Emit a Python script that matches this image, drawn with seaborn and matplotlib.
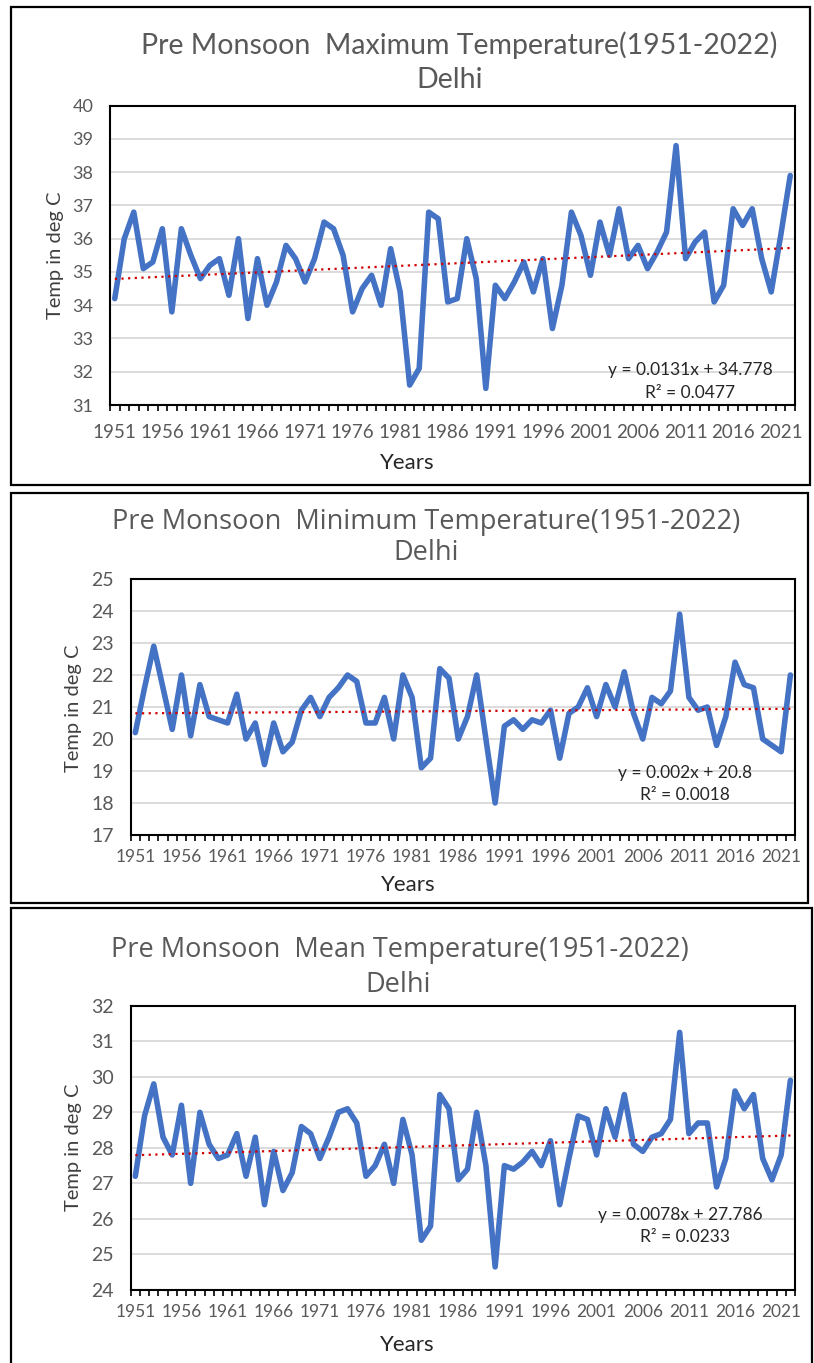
import numpy as np
import pandas as pd
import matplotlib
matplotlib.use("Agg")
import matplotlib.pyplot as plt
import seaborn as sns
from matplotlib.patches import Rectangle


years = list(range(1951, 2023))

max_temp = [34.2, 36.0, 36.8, 35.1, 35.3, 36.3, 33.8, 36.3, 35.5, 34.8, 35.2, 35.4,
            34.3, 36.0, 33.6, 35.4, 34.0, 34.7, 35.8, 35.4, 34.7, 35.4, 36.5, 36.3,
            35.5, 33.8, 34.5, 34.9, 34.0, 35.7, 34.4, 31.6, 32.1, 36.8, 36.6, 34.1,
            34.2, 36.0, 34.8, 31.5, 34.6, 34.2, 34.7, 35.3, 34.4, 35.4, 33.3, 34.6,
            36.8, 36.1, 34.9, 36.5, 35.5, 36.9, 35.4, 35.8, 35.1, 35.6, 36.2, 38.8,
            35.4, 35.9, 36.2, 34.1, 34.6, 36.9, 36.4, 36.9, 35.4, 34.4, 36.1, 37.9]

min_temp = [20.2, 21.6, 22.9, 21.6, 20.3, 22.0, 20.1, 21.7, 20.7, 20.6, 20.5, 21.4,
            20.0, 20.5, 19.2, 20.5, 19.6, 19.9, 20.9, 21.3, 20.7, 21.3, 21.6, 22.0,
            21.8, 20.5, 20.5, 21.3, 20.0, 22.0, 21.3, 19.1, 19.4, 22.2, 21.9, 20.0,
            20.7, 22.0, 20.0, 18.0, 20.4, 20.6, 20.3, 20.6, 20.5, 20.9, 19.4, 20.8,
            21.0, 21.6, 20.7, 21.7, 21.0, 22.1, 20.8, 20.0, 21.3, 21.1, 21.5, 23.9,
            21.3, 20.9, 21.0, 19.8, 20.7, 22.4, 21.7, 21.6, 20.0, 19.8, 19.6, 22.0]

mean_temp = [27.2, 28.9, 29.8, 28.3, 27.8, 29.2, 27.0, 29.0, 28.1, 27.7, 27.8, 28.4,
             27.2, 28.3, 26.4, 27.9, 26.8, 27.3, 28.6, 28.4, 27.7, 28.3, 29.0, 29.1,
             28.7, 27.2, 27.5, 28.1, 27.0, 28.8, 27.8, 25.4, 25.8, 29.5, 29.1, 27.1,
             27.4, 29.0, 27.5, 24.65, 27.5, 27.4, 27.6, 27.9, 27.5, 28.2, 26.4, 27.7,
             28.9, 28.8, 27.8, 29.1, 28.3, 29.5, 28.1, 27.9, 28.3, 28.4, 28.8, 31.25,
             28.4, 28.7, 28.7, 26.9, 27.7, 29.6, 29.1, 29.5, 27.7, 27.1, 27.8, 29.9]

titles = ["Pre Monsoon  Maximum Temperature(1951-2022)",
          "Pre Monsoon  Minimum Temperature(1951-2022)",
          "Pre Monsoon  Mean Temperature(1951-2022)"]

# trendline coefficients as printed on the chart (x = 1..72)
trend_coef = [(0.0131, 34.778), (0.002, 20.8), (0.0078, 27.786)]
trend_eq = ["y = 0.0131x + 34.778", "y = 0.002x + 20.8", "y = 0.0078x + 27.786"]
trend_r2 = ["R² = 0.0477", "R² = 0.0018", "R² = 0.0233"]

y_ranges = [(31, 40), (17, 25), (24, 32)]
x_ticks = list(range(1951, 2022, 5))

sns.set_style("white")
plt.rcParams['font.family'] = ['Lato', 'DejaVu Sans']

W, H = 814, 1363
fig = plt.figure(figsize=(W / 100, H / 100), dpi=100)


def fx(x):
    return x / W


def fy(y):
    return 1 - y / H


def box(x0, y0, x1, y1):
    fig.add_artist(Rectangle((fx(x0), fy(y1)), (x1 - x0) / W, (y1 - y0) / H,
                             transform=fig.transFigure, fill=False,
                             ec='black', lw=1.6))


def axes_px(x0, y0, x1, y1):
    return fig.add_axes([fx(x0), fy(y1), (x1 - x0) / W, (y1 - y0) / H])


def draw_panel(ax, values, coef, ylim, ytick_size, xtick_size, xpad):
    df = pd.DataFrame({'Year': years, 'Temp': values})
    idx = np.arange(1, len(years) + 1)
    df['Trend'] = coef[0] * idx + coef[1]

    sns.lineplot(data=df, x='Year', y='Temp', ax=ax, color='#4472C4', lw=4)
    sns.lineplot(data=df, x='Year', y='Trend', ax=ax, color='#D00000', lw=1.6,
                 linestyle=(0, (1, 2)))

    ax.set_xlim(1950.5, 2022.5)
    ax.set_ylim(*ylim)
    ax.set_yticks(range(ylim[0], ylim[1] + 1))
    ax.set_xticks(x_ticks)
    ax.set_xticks(np.arange(1950.5, 2023), minor=True)
    ax.tick_params(axis='x', which='major', length=0, pad=xpad,
                   labelsize=xtick_size, labelcolor='#595959')
    ax.tick_params(axis='x', which='minor', length=4, width=1.2,
                   color='black', direction='out', bottom=True)
    ax.tick_params(axis='y', length=0, pad=12, labelsize=ytick_size,
                   labelcolor='#595959')
    ax.yaxis.grid(True, color='#D9D9D9', lw=1.3)
    ax.set_axisbelow(True)
    for s in ax.spines.values():
        s.set_color('black')
        s.set_linewidth(1.5)
    ax.set_xlabel('')
    ax.set_ylabel('')


# panel frames
box(11, 7, 810, 485)
box(11, 493, 808, 903)
box(11, 908, 812, 1370)

ax1 = axes_px(110, 105.7, 795, 405)
ax2 = axes_px(130.7, 579, 795, 835)
ax3 = axes_px(130.7, 1005.7, 795, 1290)

draw_panel(ax1, max_temp, trend_coef[0], y_ranges[0], 13, 13.5, 14)
draw_panel(ax2, min_temp, trend_coef[1], y_ranges[1], 14, 12.5, 10)
draw_panel(ax3, mean_temp, trend_coef[2], y_ranges[2], 14, 12.5, 10)

title_col = '#595959'
open_sans = ['Open Sans', 'DejaVu Sans']

# titles
fig.text(fx(459), fy(45), titles[0], ha='center', va='center', fontsize=20.5, color=title_col)
fig.text(fx(450), fy(80), "Delhi", ha='center', va='center', fontsize=20.5, color=title_col)
fig.text(fx(426), fy(522), titles[1], ha='center', va='center', fontsize=19.5,
         color=title_col, family=open_sans)
fig.text(fx(426), fy(553), "Delhi", ha='center', va='center', fontsize=19.5,
         color=title_col, family=open_sans)
fig.text(fx(400), fy(950), titles[2], ha='center', va='center', fontsize=19.5,
         color=title_col, family=open_sans)
fig.text(fx(398), fy(985), "Delhi", ha='center', va='center', fontsize=19.5,
         color=title_col, family=open_sans)

# axis titles
for (lx, ly), (yx, yy) in [((407, 463), (55, 255)),
                           ((408, 885), (73, 708)),
                           ((407, 1345), (73, 1147))]:
    fig.text(fx(lx), fy(ly), "Years", ha='center', va='center', fontsize=16, color='#262626')
    fig.text(fx(yx), fy(yy), "Temp in deg C", ha='center', va='center', fontsize=14.5,
             rotation=90, color='#404040')

# trendline equations
for (ex, ey), (rx, ry), eq, r2 in zip([(690, 370), (685, 773), (680, 1215)],
                                      [(690, 393), (685, 795), (685, 1237)],
                                      trend_eq, trend_r2):
    fig.text(fx(ex), fy(ey), eq, ha='center', va='center', fontsize=12.5, color='#262626')
    fig.text(fx(rx), fy(ry), r2, ha='center', va='center', fontsize=12.5, color='#262626')

fig.savefig("out.png", dpi=100)
